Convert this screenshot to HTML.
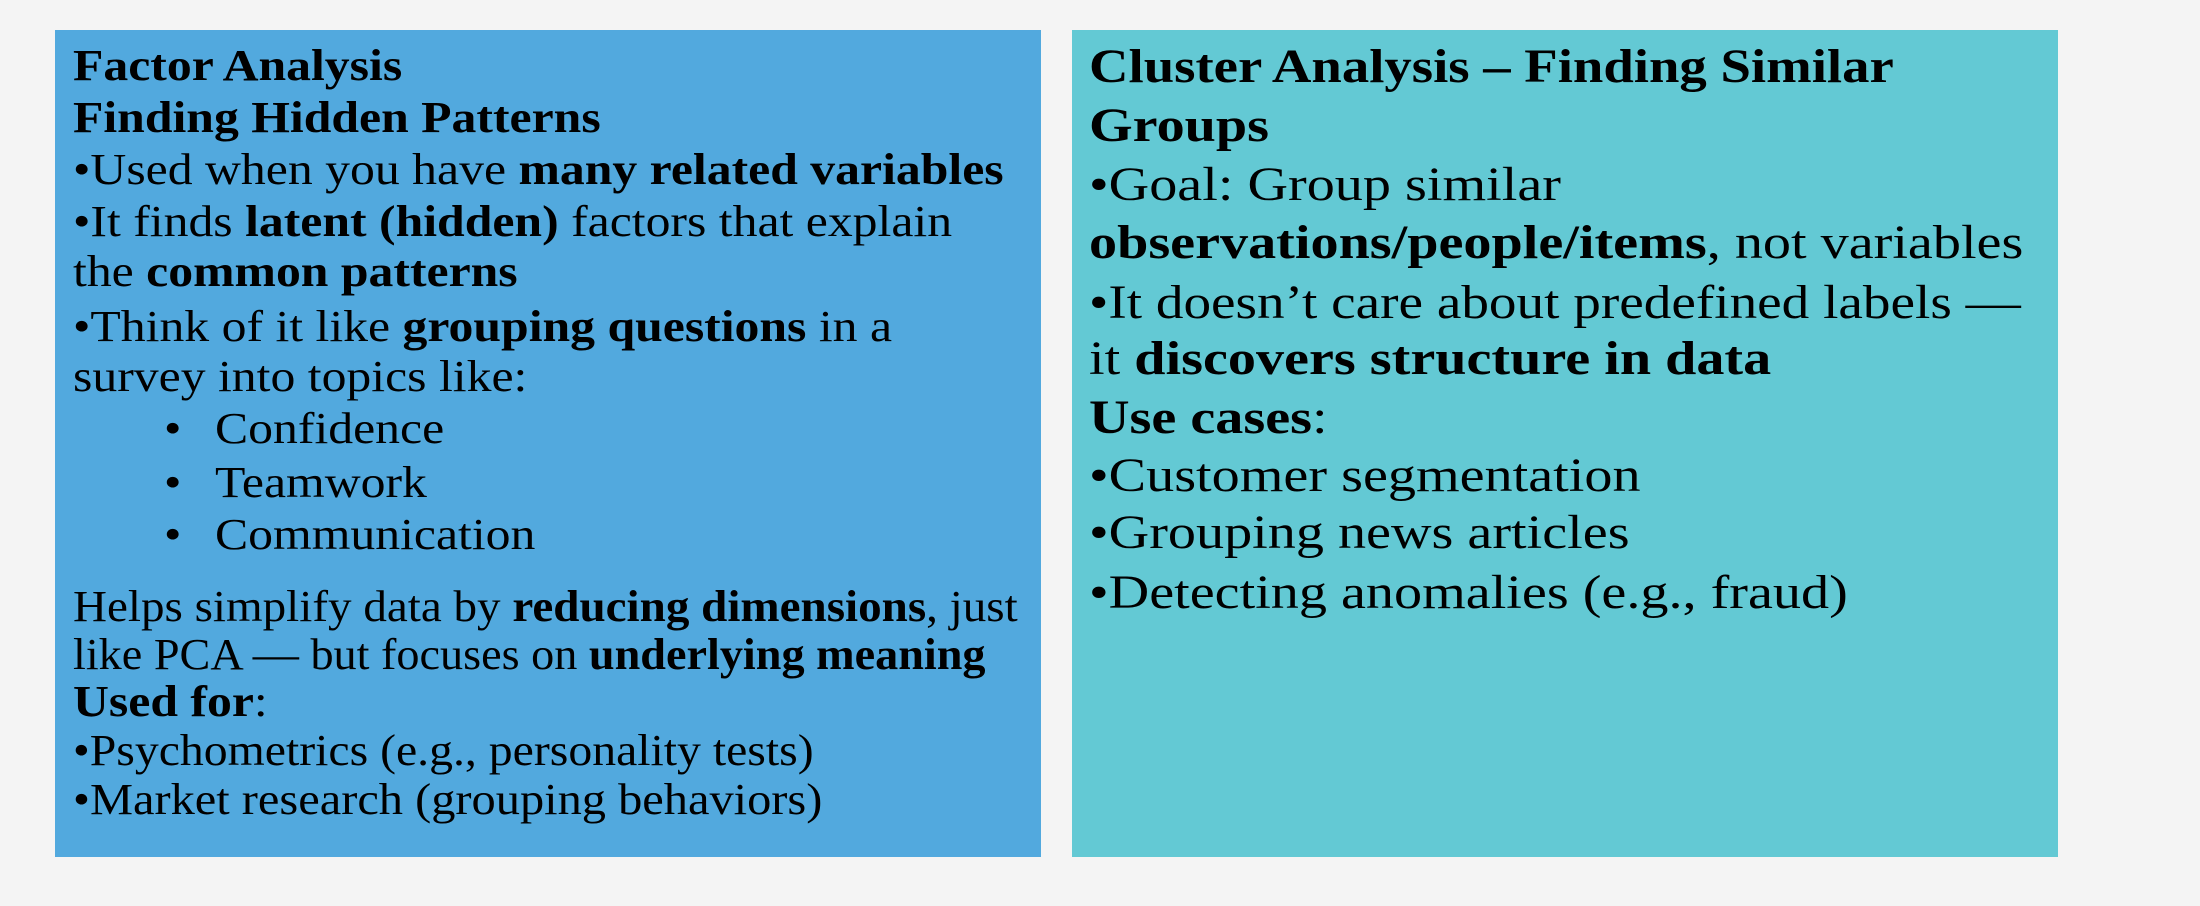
<!DOCTYPE html>
<html><head><meta charset="utf-8"><style>
html,body{margin:0;padding:0}
body{width:2200px;height:906px;background:#f4f4f4;position:relative;overflow:hidden;font-family:"Liberation Serif",serif;color:#000}
.box{position:absolute;top:30px;height:827px}
.l{position:absolute;white-space:nowrap;line-height:52px;height:52px;transform-origin:0 50%}
.a .l{font-size:44px;left:18px;transform:scaleX(1.13)}
.c .l{font-size:48px;left:17px;transform:scaleX(1.17)}
b{font-weight:bold}
</style></head><body>
<div class="box a" style="left:55px;width:986px;background:#52a9de">
<div class="l" style="top:10px"><b>Factor Analysis</b></div>
<div class="l" style="top:62px"><b>Finding Hidden Patterns</b></div>
<div class="l" style="top:114px">•Used when you have <b>many related variables</b></div>
<div class="l" style="top:166px">•It finds <b>latent (hidden)</b> factors that explain</div>
<div class="l" style="top:216px">the <b>common patterns</b></div>
<div class="l" style="top:271px">•Think of it like <b>grouping questions</b> in a</div>
<div class="l" style="top:321px">survey into topics like:</div>
<div class="l" style="top:373px;left:109px">•</div><div class="l" style="top:373px;left:160px">Confidence</div>
<div class="l" style="top:427px;left:109px">•</div><div class="l" style="top:427px;left:160px">Teamwork</div>
<div class="l" style="top:479px;left:109px">•</div><div class="l" style="top:479px;left:160px">Communication</div>
<div class="l" style="top:551px;transform:scaleX(1.07)">Helps simplify data by <b>reducing dimensions</b>, just</div>
<div class="l" style="top:599px;transform:scaleX(1.05)">like PCA — but focuses on <b>underlying meaning</b></div>
<div class="l" style="top:646px"><b>Used for</b>:</div>
<div class="l" style="top:695px;transform:scaleX(1.085)">•Psychometrics (e.g., personality tests)</div>
<div class="l" style="top:744px;transform:scaleX(1.10)">•Market research (grouping behaviors)</div>
</div>
<div class="box c" style="left:1072px;width:986px;background:#63c9d4">
<div class="l" style="top:11px;transform:scaleX(1.14)"><b>Cluster Analysis – Finding Similar</b></div>
<div class="l" style="top:70px"><b>Groups</b></div>
<div class="l" style="top:129px">•Goal: Group similar</div>
<div class="l" style="top:187px"><b>observations/people/items</b>, not variables</div>
<div class="l" style="top:247px;transform:scaleX(1.15)">•It doesn’t care about predefined labels —</div>
<div class="l" style="top:303px">it <b>discovers structure in data</b></div>
<div class="l" style="top:362px"><b>Use cases</b>:</div>
<div class="l" style="top:420px">•Customer segmentation</div>
<div class="l" style="top:477px">•Grouping news articles</div>
<div class="l" style="top:537px">•Detecting anomalies (e.g., fraud)</div>
</div>
</body></html>
